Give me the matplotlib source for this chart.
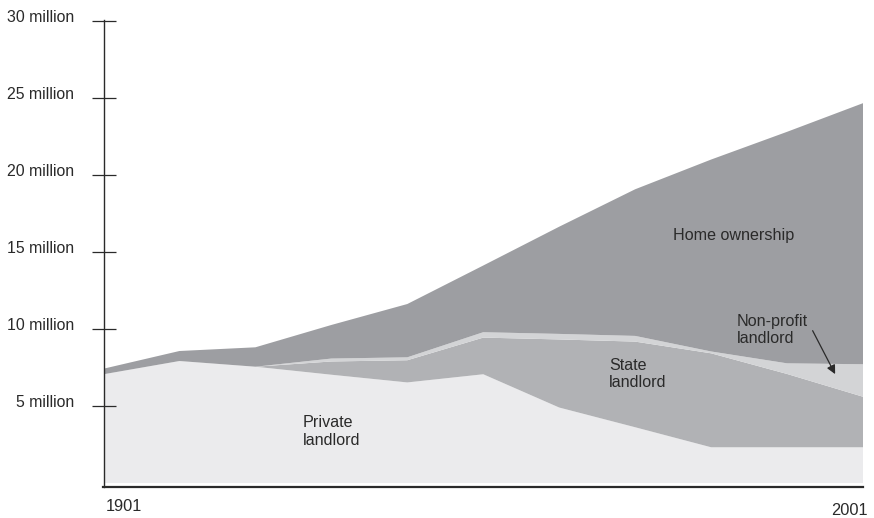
import numpy as np
import matplotlib
matplotlib.use('Agg')
from matplotlib import pyplot as plt
from matplotlib.transforms import ScaledTranslation

plt.rcParams['font.family'] = ['Liberation Sans', 'DejaVu Sans']

# census years and households (millions) by tenure
years = [1901, 1911, 1921, 1931, 1941, 1951, 1961, 1971, 1981, 1991, 2001]
private = [7.06, 7.92, 7.55, 7.03, 6.53, 7.06, 4.90, 3.62, 2.32, 2.32, 2.32]
state = [0, 0, 0, 0.86, 1.44, 2.38, 4.42, 5.56, 6.10, 4.76, 3.28]
non_profit = [0, 0, 0, 0.19, 0.19, 0.35, 0.36, 0.37, 0.12, 0.69, 2.11]
home = [0.36, 0.65, 1.26, 2.18, 3.46, 4.33, 6.96, 9.52, 12.46, 15.03, 16.95]

ytick_vals = [5, 10, 15, 20, 25, 30]
ytick_labels = ['5 million', '10 million', '15 million', '20 million', '25 million', '30 million']

colors = ['#ebebed', '#b1b2b5', '#d3d4d6', '#9d9ea2']
ink = '#2a2a2a'

fig = plt.figure(figsize=(8.74, 5.18), dpi=100)
ax = fig.add_axes([103.5/874, 1 - 486.7/518, (863 - 103.5)/874, (486.7 - 20)/518])

ax.stackplot(years, private, state, non_profit, home, colors=colors, linewidth=0)

ax.set_xlim(1901, 2001)
ax.set_ylim(-0.24, 30.06)

ax.spines['top'].set_visible(False)
ax.spines['right'].set_visible(False)
ax.spines['left'].set_linewidth(1.0)
ax.spines['bottom'].set_linewidth(1.6)
ax.spines['left'].set_color(ink)
ax.spines['bottom'].set_color(ink)

ax.set_yticks(ytick_vals)
ax.set_yticklabels(ytick_labels, fontsize=11.4, color=ink)
ax.tick_params(axis='y', direction='inout', length=17, width=0.9, pad=11, colors=ink)
for lab in ax.get_yticklabels():
    lab.set_transform(lab.get_transform() + ScaledTranslation(-0.02, 0.05, fig.dpi_scale_trans))
ax.set_xticks([])

tr = ax.get_xaxis_transform()
ax.text(1901.3, -0.042, '1901', transform=tr, ha='left', va='center', fontsize=11.8, color=ink)
ax.text(2001.6, -0.051, '2001', transform=tr, ha='right', va='center', fontsize=11.8, color=ink)

ax.text(1927.2, 3.33, 'Private\nlandlord', ha='left', va='center', fontsize=11.6, color=ink, linespacing=1.25)
ax.text(1967.6, 7.08, 'State\nlandlord', ha='left', va='center', fontsize=11.6, color=ink, linespacing=1.15)
ax.text(1983.9, 16.1, 'Home ownership', ha='center', va='center', fontsize=11.6, color=ink)
ax.text(1984.4, 9.92, 'Non-profit\nlandlord', ha='left', va='center', fontsize=11.6, color=ink, linespacing=1.2)
ax.annotate('', xy=(1997.5, 6.91), xytext=(1994.2, 10.05),
            arrowprops=dict(arrowstyle='-|>', color=ink, lw=0.9, mutation_scale=13))

fig.savefig('out.png', dpi=100)
